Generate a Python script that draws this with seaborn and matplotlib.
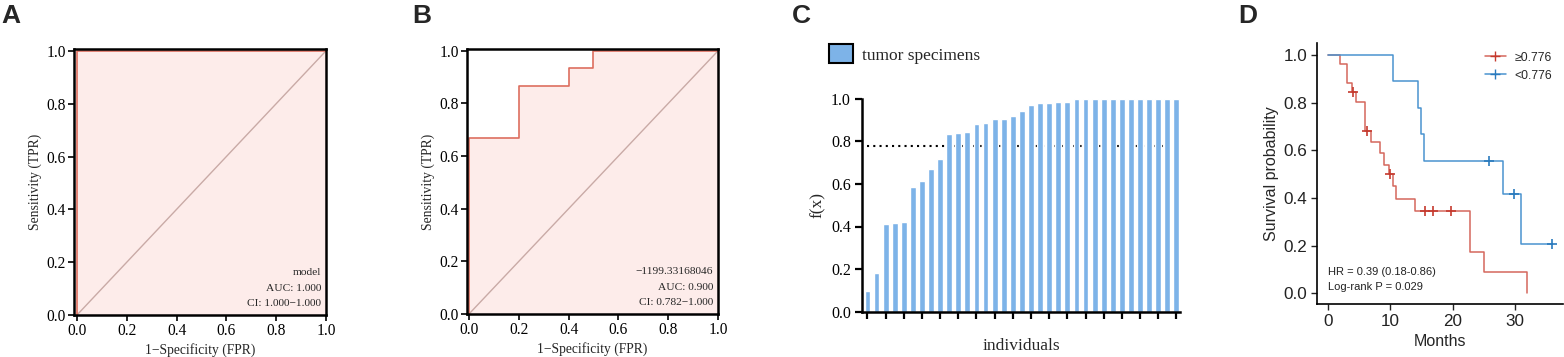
import numpy as np
import pandas as pd
import matplotlib.pyplot as plt
import seaborn as sns
from matplotlib.patches import Patch
from matplotlib.lines import Line2D

# ---- data ----
# panel A: ROC of the model
roc_a_fpr = [0.0, 0.0, 1.0]
roc_a_tpr = [0.0, 1.0, 1.0]
roc_a_text = ["model", "AUC: 1.000", "CI: 1.000\u22121.000"]

# panel B: ROC of the cutoff
roc_b_fpr = [0.0, 0.0, 0.2, 0.2, 0.4, 0.4, 0.5, 0.5, 1.0]
roc_b_tpr = [0.0, 0.667, 0.667, 0.867, 0.867, 0.933, 0.933, 1.0, 1.0]
roc_b_text = ["\u22121199.33168046", "AUC: 0.900", "CI: 0.782\u22121.000"]

# panel C: f(x) per tumor specimen
fx_values = [0.097, 0.183, 0.412, 0.418, 0.419, 0.585, 0.615, 0.668, 0.717,
             0.833, 0.839, 0.845, 0.883, 0.886, 0.903, 0.906, 0.920, 0.940,
             0.972, 0.981, 0.981, 0.983, 0.984, 0.998, 0.998, 0.998, 0.998,
             0.998, 0.998, 0.998, 0.998, 0.998, 0.998, 0.998, 0.998]
fx_cutoff = 0.776

# panel D: Kaplan-Meier curves
km_high_t = [0, 1.9, 3.0, 3.85, 4.5, 5.95, 6.9, 8.4, 8.9, 9.85, 10.5, 10.9, 13.9, 22.8, 25.0, 32.0]
km_high_s = [1.0, 0.962, 0.884, 0.846, 0.804, 0.680, 0.634, 0.587, 0.540, 0.499, 0.448, 0.397, 0.347, 0.175, 0.088, 0.0]
km_high_cens_t = [3.95, 6.3, 10.0, 15.5, 16.8, 19.8]
km_high_cens_s = [0.846, 0.680, 0.499, 0.347, 0.347, 0.347]

km_low_t = [0, 10.45, 14.45, 14.87, 15.45, 28.0, 31.0, 35.9]
km_low_s = [1.0, 0.889, 0.778, 0.667, 0.556, 0.417, 0.208, 0.208]
km_low_cens_t = [25.8, 29.8, 35.9]
km_low_cens_s = [0.556, 0.417, 0.208]

hr_text = ["HR = 0.39 (0.18-0.86)", "Log-rank P = 0.029"]

# ---- style ----
sns.set_theme(style="ticks")
SERIF = ["Liberation Serif", "DejaVu Serif"]
SANS = ["Liberation Sans", "DejaVu Sans"]
plt.rcParams["font.family"] = SERIF

W, H = 1564, 357
fig = plt.figure(figsize=(W / 100, H / 100), dpi=100)


def box(l, t, r, b):
    return [l / W, 1 - b / H, (r - l) / W, (b - t) / H]


roc_line = "#dd6e5f"
roc_fill = "#fdecea"
diag = "#c9aaa6"


def roc_panel(ax, fpr, tpr, labels, xmin):
    ax.fill_between(fpr, tpr, 0, color=roc_fill, lw=0, zorder=0)
    ax.plot([0, 1], [0, 1], color=diag, lw=1.0, zorder=1)
    sns.lineplot(x=fpr, y=tpr, sort=False, estimator=None, color=roc_line,
                 lw=1.2, ax=ax, zorder=2)
    ax.set_xlim(xmin, 1.0)
    ax.set_ylim(0, 1.007)
    ticks = np.arange(0, 1.01, 0.2)
    ax.set_xticks(ticks)
    ax.set_yticks(ticks)
    ax.set_xticklabels([f"{t:.1f}" for t in ticks])
    ax.set_yticklabels([f"{t:.1f}" for t in ticks])
    for s in ax.spines.values():
        s.set_visible(True)
        s.set_linewidth(1.8)
        s.set_color("black")
    ax.tick_params(length=4, width=1.2, labelsize=11.2, pad=2, colors="black")
    ax.set_xlabel("1\u2212Specificity (FPR)", fontsize=9.8, labelpad=3)
    ax.set_ylabel("Sensitivity (TPR)", fontsize=9.8, labelpad=3)
    for i, txt in enumerate(labels):
        ax.text(0.98, 0.16 - i * 0.059, txt, ha="right", va="center",
                fontsize=8.2, transform=ax.transData)


axA = fig.add_axes(box(74, 49, 326, 315))
roc_panel(axA, roc_a_fpr, roc_a_tpr, roc_a_text, -0.012)
axB = fig.add_axes(box(467, 49, 718, 314))
roc_panel(axB, roc_b_fpr, roc_b_tpr, roc_b_text, -0.008)

# ---- panel C ----
bar_color = "#7db3e8"
axC = fig.add_axes(box(862, 98.7, 1180, 311.7))
idx = list(range(len(fx_values)))
sns.barplot(x=idx, y=fx_values, color=bar_color, width=0.64, saturation=1,
            ax=axC, zorder=2)
axC.hlines(fx_cutoff, 0, len(fx_values) - 0.6, colors="black",
           linestyles=(0, (1, 2)), lw=1.5, zorder=1)
axC.set_xlim(-0.6, len(fx_values) - 0.6)
axC.set_ylim(0, 1.0)
axC.set_xticks(idx[::2])
axC.set_xticklabels([])
axC.set_yticks(np.arange(0, 1.01, 0.2))
axC.set_yticklabels([f"{t:.1f}" for t in np.arange(0, 1.01, 0.2)])
sns.despine(ax=axC)
for s in ["left", "bottom"]:
    axC.spines[s].set_linewidth(1.8)
    axC.spines[s].set_color("black")
axC.tick_params(length=5, width=1.6, labelsize=11.5, pad=3, colors="black")
axC.set_xlabel("individuals", fontsize=12.5, labelpad=11)
axC.set_ylabel("f(x)", fontsize=12.5, labelpad=4)
axC.legend(handles=[Patch(facecolor=bar_color, edgecolor="black", lw=1.5,
                          label="tumor specimens")],
           loc="center left", bbox_to_anchor=(829 / W, 1 - 54 / H),
           bbox_transform=fig.transFigure, frameon=False, fontsize=12.5,
           handlelength=1.4, handleheight=1.3, handletextpad=0.5,
           borderaxespad=0, borderpad=0)

# ---- panel D ----
red_line, red_mark = "#d4675d", "#c53a2e"
blue_line, blue_mark = "#4a93cf", "#2a7abd"
axD = fig.add_axes(box(1317, 43, 1563, 304))
sns.lineplot(x=km_high_t, y=km_high_s, drawstyle="steps-post", sort=False,
             estimator=None, color=red_line, lw=1.1, ax=axD)
sns.lineplot(x=km_low_t, y=km_low_s, drawstyle="steps-post", sort=False,
             estimator=None, color=blue_line, lw=1.1, ax=axD)
sns.scatterplot(x=km_high_cens_t, y=km_high_cens_s, marker="+", s=45,
                color=red_mark, linewidth=1.2, ax=axD, zorder=3)
sns.scatterplot(x=km_low_cens_t, y=km_low_cens_s, marker="+", s=45,
                color=blue_mark, linewidth=1.2, ax=axD, zorder=3)
axD.set_xlim(-1.77, 37.7)
axD.set_ylim(-0.045, 1.05)
axD.set_xticks([0, 10, 20, 30])
axD.set_yticks(np.arange(0, 1.01, 0.2))
axD.set_yticklabels([f"{t:.1f}" for t in np.arange(0, 1.01, 0.2)])
sns.despine(ax=axD)
for s in ["left", "bottom"]:
    axD.spines[s].set_linewidth(1.2)
    axD.spines[s].set_color("black")
axD.tick_params(length=4, width=1.0, labelsize=12.3, pad=3, colors="#222222")
for lab in axD.get_xticklabels() + axD.get_yticklabels():
    lab.set_family(SANS)
axD.set_xlabel("Months", fontsize=11.5, family=SANS, labelpad=4)
axD.set_ylabel("Survival probability", fontsize=11.5, family=SANS, labelpad=3)
for i, txt in enumerate(hr_text):
    axD.text(0.0, 0.088 - i * 0.062, txt, fontsize=8, family=SANS,
             ha="left", va="center", color="#222222")
handles = [Line2D([], [], color=red_line, marker="+", mec=red_mark, ms=7, lw=1.1),
           Line2D([], [], color=blue_line, marker="+", mec=blue_mark, ms=7, lw=1.1)]
axD.legend(handles, ["\u22650.776", "<0.776"], loc="upper right",
           bbox_to_anchor=(0.99, 1.0), frameon=False,
           prop={"family": SANS, "size": 8.8}, handlelength=1.7,
           handletextpad=0.7, labelspacing=0.5, borderaxespad=0.3)

# ---- panel letters ----
for x, letter in [(1, "A"), (412, "B"), (792, "C"), (1238, "D")]:
    fig.text(x / W, 1 - 4 / H, letter, fontsize=19, fontweight="bold",
             family=SANS, ha="left", va="top")

fig.savefig("out.png", dpi=100)
